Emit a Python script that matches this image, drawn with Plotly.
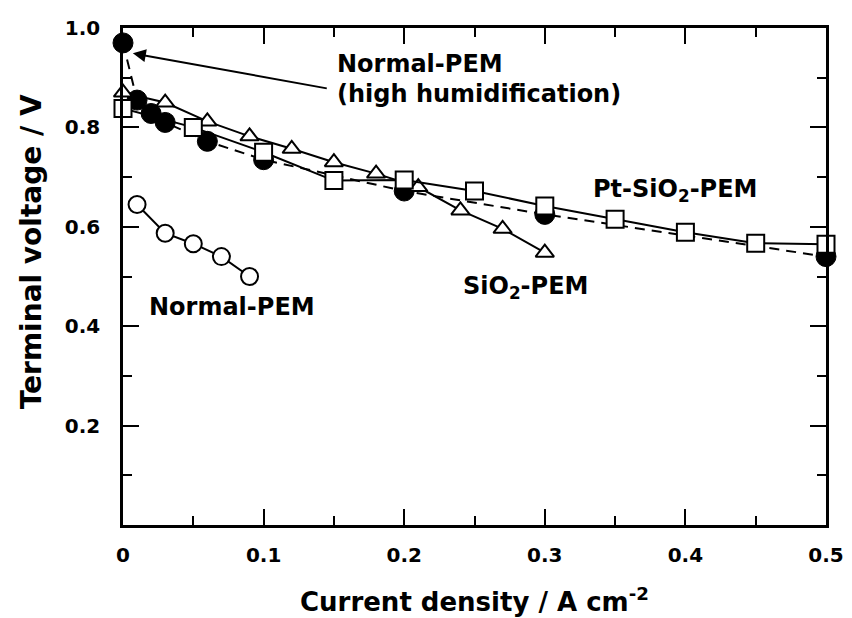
import plotly.graph_objects as go

# Data
hh_x = [0, 0.01, 0.02, 0.03, 0.06, 0.1, 0.2, 0.3, 0.5]
hh_y = [0.97, 0.855, 0.828, 0.81, 0.772, 0.735, 0.672, 0.625, 0.54]

pt_x = [0, 0.05, 0.1, 0.15, 0.2, 0.25, 0.3, 0.35, 0.4, 0.45, 0.5]
pt_y = [0.838, 0.80, 0.75, 0.693, 0.694, 0.672, 0.642, 0.615, 0.589, 0.567, 0.565]

si_x = [0, 0.03, 0.06, 0.09, 0.12, 0.15, 0.18, 0.21, 0.24, 0.27, 0.3]
si_y = [0.87, 0.85, 0.812, 0.782, 0.757, 0.73, 0.707, 0.68, 0.633, 0.596, 0.548]

np_x = [0.01, 0.03, 0.05, 0.07, 0.09]
np_y = [0.645, 0.587, 0.566, 0.54, 0.50]

x_ticks = [0, 0.1, 0.2, 0.3, 0.4, 0.5]
x_ticktext = ["0", "0.1", "0.2", "0.3", "0.4", "0.5"]
y_ticks = [0.2, 0.4, 0.6, 0.8, 1.0]
y_ticktext = ["0.2", "0.4", "0.6", "0.8", "1.0"]

FONT = "DejaVu Sans"

fig = go.Figure()

fig.add_trace(go.Scatter(
    x=hh_x, y=hh_y, mode="lines+markers",
    line=dict(color="black", width=2, dash="10px,7px"),
    marker=dict(symbol="circle", size=20, color="black", line=dict(color="black", width=1)),
    showlegend=False, cliponaxis=False))

fig.add_trace(go.Scatter(
    x=np_x, y=np_y, mode="lines+markers",
    line=dict(color="black", width=2),
    marker=dict(symbol="circle", size=17, color="white", line=dict(color="black", width=2)),
    showlegend=False, cliponaxis=False))

fig.add_trace(go.Scatter(
    x=si_x, y=si_y, mode="lines+markers",
    line=dict(color="black", width=2),
    marker=dict(symbol="triangle-up", size=16, color="white", line=dict(color="black", width=2)),
    showlegend=False, cliponaxis=False))

fig.add_trace(go.Scatter(
    x=pt_x, y=pt_y, mode="lines+markers",
    line=dict(color="black", width=2),
    marker=dict(symbol="square", size=17, color="white", line=dict(color="black", width=2)),
    showlegend=False, cliponaxis=False))

lab_font = dict(family=FONT, size=24, color="black", weight="bold")

annotations = [
    dict(x=0.007, y=0.949, ax=0.146, ay=0.878, xref="x", yref="y", axref="x", ayref="y",
         text="", showarrow=True, arrowhead=2, arrowsize=1.3, arrowwidth=2, arrowcolor="black"),
    dict(x=0.151, y=0.927, xref="x", yref="y", text="Normal-PEM", showarrow=False,
         xanchor="left", yanchor="middle", font=lab_font),
    dict(x=0.151, y=0.868, xref="x", yref="y", text="(high humidification)", showarrow=False,
         xanchor="left", yanchor="middle", font=lab_font),
    dict(x=0.3325, y=0.674, xref="x", yref="y", text="Pt-SiO<sub>2</sub>-PEM", showarrow=False,
         xanchor="left", yanchor="middle", font=lab_font),
    dict(x=0.2405, y=0.477, xref="x", yref="y", text="SiO<sub>2</sub>-PEM", showarrow=False,
         xanchor="left", yanchor="middle", font=lab_font),
    dict(x=0.017, y=0.438, xref="x", yref="y", text="Normal-PEM", showarrow=False,
         xanchor="left", yanchor="middle", font=lab_font),
    dict(x=0.5, y=-0.15, xref="paper", yref="paper", text="Current density / A cm<sup>-2</sup>",
         showarrow=False, xanchor="center", yanchor="middle",
         font=dict(family=FONT, size=26, color="black", weight="bold")),
    dict(x=-0.13, y=0.55, xref="paper", yref="paper", text="Terminal voltage / V",
         showarrow=False, xanchor="center", yanchor="middle", textangle=-90,
         font=dict(family=FONT, size=28, color="black", weight="bold")),
]

# The page body adds an 8px offset, so the figure is 8px smaller and margins shifted.
fig.update_layout(
    width=844, height=610,
    margin=dict(l=115, r=22, t=8, b=93),
    paper_bgcolor="white", plot_bgcolor="white",
    annotations=annotations,
    font=dict(family=FONT, color="black"),
)

axis_common = dict(
    showgrid=False, zeroline=False, showline=True, linecolor="black", linewidth=2.5,
    mirror="allticks", ticks="inside", ticklen=16, tickwidth=2, tickcolor="black",
    tickfont=dict(family=FONT, size=20, color="black", weight="bold"),
    ticklabeloverflow="allow",
)

fig.update_xaxes(range=[0, 0.5], tickmode="array", tickvals=x_ticks, ticktext=x_ticktext,
                 ticklabelstandoff=10,
                 minor=dict(tickvals=[0.05, 0.15, 0.25, 0.35, 0.45], ticks="inside",
                            ticklen=9, tickwidth=2, tickcolor="black"),
                 **axis_common)
fig.update_yaxes(range=[0, 1.0], tickmode="array", tickvals=y_ticks, ticktext=y_ticktext,
                 ticklabelstandoff=16,
                 minor=dict(tickvals=[0.1, 0.3, 0.5, 0.7, 0.9], ticks="inside",
                            ticklen=9, tickwidth=2, tickcolor="black"),
                 **axis_common)

fig.write_html("out.html")
